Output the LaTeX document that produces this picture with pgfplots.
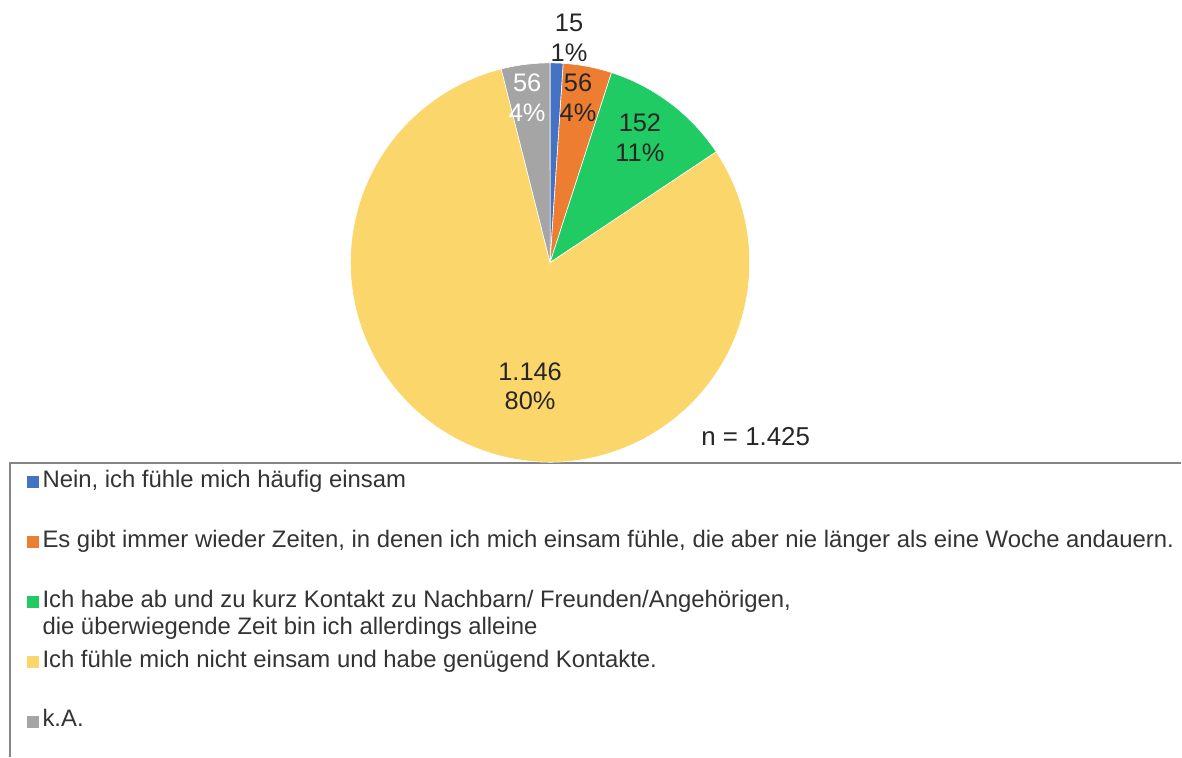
\documentclass[border=0pt]{standalone}
\usepackage{pgfplots}
\usepackage{pgfplotstable}
\pgfplotsset{compat=1.18}
\usepackage{fontspec}
\setmainfont{Liberation Sans}
\definecolor{cBlue}{HTML}{4472C4}
\definecolor{cOrange}{HTML}{ED7D31}
\definecolor{cGreen}{HTML}{1FCB62}
\definecolor{cYellow}{HTML}{FAD66B}
\definecolor{cGray}{HTML}{A5A5A5}
\definecolor{txt}{HTML}{262626}
\definecolor{legtxt}{HTML}{333333}
\definecolor{boxgray}{HTML}{858585}

\pgfplotstableread{
idx count
0 15
1 56
2 152
3 1146
4 56
}\piedata

\pgfplotstablegetelem{0}{count}\of\piedata \let\cA\pgfplotsretval
\pgfplotstablegetelem{1}{count}\of\piedata \let\cB\pgfplotsretval
\pgfplotstablegetelem{2}{count}\of\piedata \let\cC\pgfplotsretval
\pgfplotstablegetelem{3}{count}\of\piedata \let\cD\pgfplotsretval
\pgfplotstablegetelem{4}{count}\of\piedata \let\cE\pgfplotsretval
\pgfmathsetmacro\total{\cA+\cB+\cC+\cD+\cE}
\pgfmathsetmacro\aO{90}
\pgfmathsetmacro\aA{\aO-360*(\cA/\total)}
\pgfmathsetmacro\aB{\aA-360*(\cB/\total)}
\pgfmathsetmacro\aC{\aB-360*(\cC/\total)}
\pgfmathsetmacro\aD{\aC-360*(\cD/\total)}
\pgfmathsetmacro\aE{\aD-360*(\cE/\total)}

\def\cx{551}
\def\cy{495}
\newcommand\slice[3]{%
  \fill[#3, draw=white, line width=0.6bp] (axis cs:\cx,\cy) -- (axis cs:{\cx+200*cos(#1)},{\cy+200*sin(#1)}) arc[start angle=#1, end angle=#2, radius=200bp] -- cycle;}

\begin{document}
\begin{tikzpicture}
\begin{axis}[
  width=1182bp, height=758bp, scale only axis,
  xmin=0, xmax=1182, ymin=0, ymax=758,
  hide axis, clip=false,
  legend image code/.code={\fill[#1] (0bp,0bp) rectangle (11bp,11bp);},
  legend style={
    at={(axis cs:27,285)}, anchor=north west,
    draw=none, fill=none, inner sep=0pt,
    font=\fontsize{24}{27}\selectfont, text=legtxt,
    row sep=40bp, column sep=4bp,
    cells={anchor=base west},
    nodes={inner sep=0pt, text height=15bp, text depth=5bp},
  },
]
\path (axis cs:0,0) rectangle (axis cs:1182,758);
\draw[boxgray, line width=2bp] (axis cs:10,0) -- (axis cs:10,294) -- (axis cs:1183,294);

\slice{\aO}{\aA}{cBlue}
\slice{\aA}{\aB}{cOrange}
\slice{\aB}{\aC}{cGreen}
\slice{\aC}{\aD}{cYellow}
\slice{\aD}{\aE}{cGray}

\begin{scope}[every node/.style={align=center, font=\fontsize{25.5}{30}\selectfont, text=txt, inner sep=0pt}]
\node at (axis cs:570,720) {15\\1\%};
\node at (axis cs:579,660) {56\\4\%};
\node[text=white] at (axis cs:528,660) {56\\4\%};
\node at (axis cs:641,620) {152\\11\%};
\node at (axis cs:531,371) {1.146\\80\%};
\end{scope}
\node[font=\fontsize{26}{30}\selectfont, text=txt, inner sep=0pt] at (axis cs:757,321) {n = 1.425};

\addlegendimage{cBlue}
\addlegendentry{Nein, ich fühle mich häufig einsam}
\addlegendimage{cOrange}
\addlegendentry{Es gibt immer wieder Zeiten, in denen ich mich einsam fühle, die aber nie länger als eine Woche andauern.}
\addlegendimage{cGreen}
\addlegendentry{\begin{tabular}[t]{@{}l@{}}Ich habe ab und zu kurz Kontakt zu Nachbarn/ Freunden/Angehörigen,\\die überwiegende Zeit bin ich allerdings alleine\end{tabular}}
\addlegendimage{cYellow}
\addlegendentry{Ich fühle mich nicht einsam und habe genügend Kontakte.}
\addlegendimage{cGray}
\addlegendentry{k.A.}
\end{axis}
\end{tikzpicture}
\end{document}
